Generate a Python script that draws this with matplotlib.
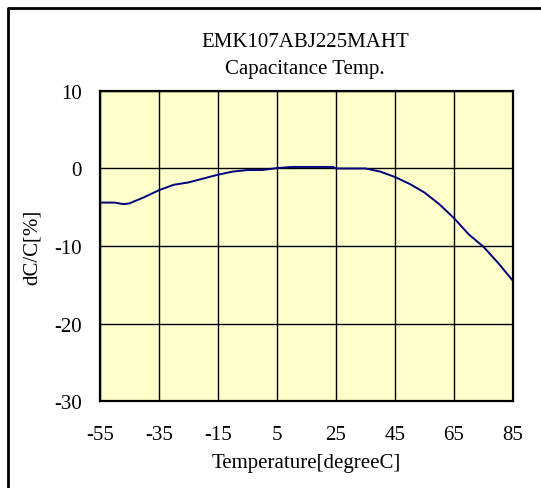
import matplotlib
matplotlib.use("Agg")
import matplotlib.pyplot as plt
from matplotlib.lines import Line2D

plt.rcParams['font.family'] = ['Liberation Serif', 'DejaVu Serif']
plt.rcParams['axes.unicode_minus'] = False

temps = [-55, -50, -47, -45, -40, -35, -30, -25, -20, -15, -10, -5, 0, 5, 10,
         15, 20, 24, 25, 30, 35, 40, 45, 50, 55, 60, 65, 70, 75, 80, 85]
dcc = [-4.4, -4.4, -4.6, -4.5, -3.7, -2.8, -2.1, -1.8, -1.3, -0.8, -0.4, -0.2, -0.2, 0.05, 0.2,
       0.2, 0.2, 0.2, 0.0, 0.0, 0.0, -0.4, -1.1, -2.0, -3.1, -4.6, -6.4, -8.5, -10.1, -12.2, -14.5]
xticks = [-55, -35, -15, 5, 25, 45, 65, 85]
yticks = [-30, -20, -10, 0, 10]

fs = 15

fig = plt.figure(figsize=(5.41, 4.89), dpi=100)
ax = fig.add_axes([0.1848, 0.1779, 0.7634, 0.634])
ax.set_facecolor("#FFFFCC")
ax.plot(temps, dcc, color="#000080", lw=1.4)
ax.set_xlim(-55, 85)
ax.set_ylim(-30, 10)
ax.set_xticks(xticks)
ax.set_yticks(yticks)
ax.grid(True, color="black", lw=1.0)
ax.tick_params(length=0, labelsize=fs)
ax.tick_params(axis="x", pad=17)
ax.tick_params(axis="y", pad=13)
for s in ax.spines.values():
    s.set_linewidth(1.6)
ax.set_xlabel("Temperature[degreeC]", fontsize=fs, labelpad=7)
ax.set_ylabel("dC/C[%]", fontsize=fs, labelpad=9)

fig.text(0.564, 0.913, "EMK107ABJ225MAHT", ha="center", va="center", fontsize=fs)
fig.text(0.564, 0.858, "Capacitance Temp.", ha="center", va="center", fontsize=fs)

# outer frame (only top and left visible in the original)
fig.add_artist(Line2D([0.0148, 0.0148, 1.0], [0.0, 0.9816, 0.9816],
                      transform=fig.transFigure, color="black", lw=2))

fig.savefig("out.png", dpi=100)
